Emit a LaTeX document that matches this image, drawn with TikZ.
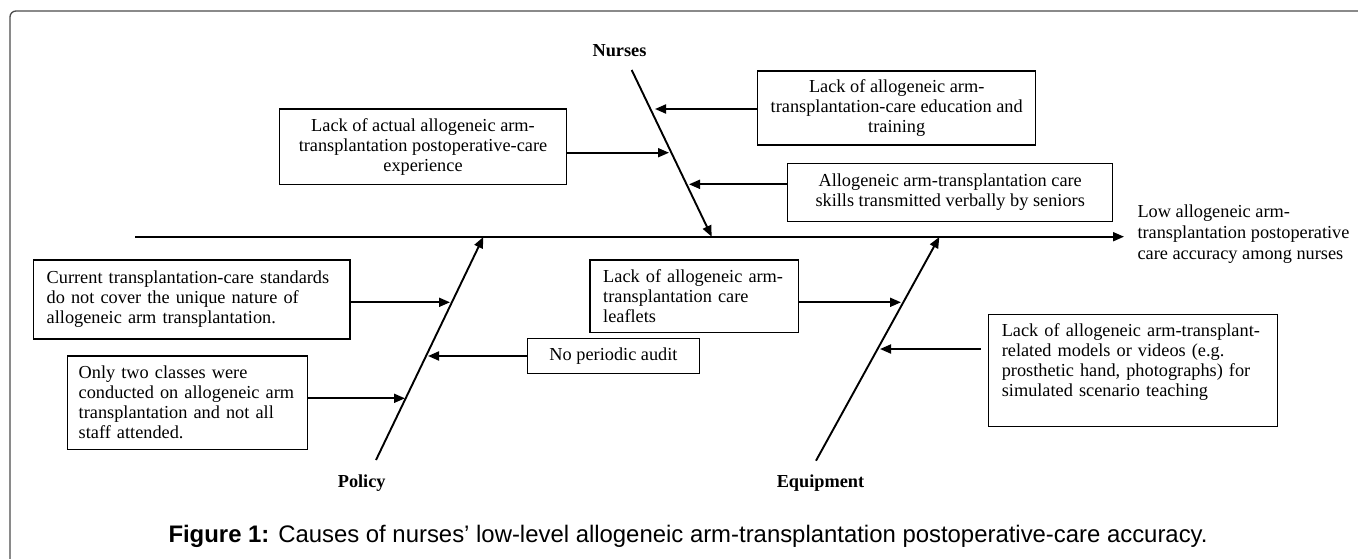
\documentclass[tikz,border=0pt]{standalone}
\usepackage{fontspec}
\setmainfont{Liberation Serif}
\newfontfamily\capfont{Liberation Sans}
\usetikzlibrary{arrows.meta}
\begin{document}
\begin{tikzpicture}[x=1pt,y=-1pt,
  tx/.style={font=\fontsize{18.3}{20}\selectfont},
  box/.style={tx,draw,line width=1.5pt,inner sep=0pt},
  lbl/.style={font=\fontsize{18.3}{20}\selectfont\bfseries},
  arr/.style={line width=1.9pt,-{Triangle[length=11pt,width=9pt]}}]
\useasboundingbox (0,0) rectangle (1358,558);
\fill[white] (0,0) rectangle (1358,558);
\draw[black!70,line width=1.3pt,rounded corners=6pt] (10,562) -- (10,11) -- (1362,11);

% cause boxes
\node[box,minimum width=287.4pt,minimum height=75.3pt,align=center] (A) at (423,146.7)
  {Lack of actual allogeneic arm-\\transplantation postoperative-care\\experience};
\node[box,minimum width=278pt,minimum height=74.3pt,align=center] (B) at (896.7,107.9)
  {Lack of allogeneic arm-\\transplantation-care education and\\training};
\node[box,minimum width=325pt,minimum height=58.4pt,align=center] (C) at (950.2,192.5)
  {Allogeneic arm-transplantation care\\skills transmitted verbally by seniors};
\node[box,minimum width=316.7pt,minimum height=79pt,text width=290pt,align=left] (D) at (191.7,299.5)
  {Current transplantation-care standards\\do not cover the unique nature of\\allogeneic arm transplantation.};
\node[box,minimum width=240pt,minimum height=93.3pt,text width=218pt,align=left] (E) at (187.7,402.7)
  {Only two classes were\\conducted on allogeneic arm\\transplantation and not all\\staff attended.};
\node[box,minimum width=208.3pt,minimum height=72.7pt,text width=182pt,align=left] (F) at (694.2,296.3)
  {Lack of allogeneic arm-\\transplantation care\\leaflets};
\node[box,minimum width=171.6pt,minimum height=34.6pt,align=center] (G) at (613.5,356)
  {No periodic audit};
\node[box,minimum width=289pt,minimum height=112.4pt,text width=262pt,align=left] (H) at (1132.8,370.5)
  {Lack of allogeneic arm-transplant-\\related models or videos (e.g.\\prosthetic hand, photographs) for\\simulated scenario teaching\\\mbox{}};

% category labels and effect
\node[lbl] (nurses) at (619.5,50.7) {Nurses};
\node[lbl] (policy) at (361.7,483.3) {Policy};
\node[lbl] (equip) at (820.5,483.3) {Equipment};
\node[font=\fontsize{18.3}{20.8}\selectfont,anchor=west,align=left,inner sep=0pt] (effect) at (1137.3,234)
  {Low allogeneic arm-\\transplantation postoperative\\care accuracy among nurses};

% spine and bones
\coordinate (sL) at (135,236.7);
\coordinate (sR) at (1124,236.7);
\coordinate (nT) at (631.7,70);
\coordinate (nH) at (711.7,236.7);
\coordinate (pB) at (376,460);
\coordinate (pH) at (483.3,237);
\coordinate (eB) at (816,460.7);
\coordinate (eH) at (939.3,237);
\draw[arr] (sL) -- (sR);
\draw[arr] (nT) -- (nH);
\draw[arr] (pB) -- (pH);
\draw[arr] (eB) -- (eH);

% ribs
\coordinate (tA) at (669,152.7);
\coordinate (tB) at (655,109);
\coordinate (tC) at (689,184.3);
\coordinate (tD) at (450,302.3);
\coordinate (tE) at (405,398.3);
\coordinate (tG) at (428,356);
\coordinate (tF) at (901,302.3);
\coordinate (tH) at (880,349);
\coordinate (hs) at (980.7,349);
\draw[arr] (A.east |- tA) -- (tA);
\draw[arr] (B.west |- tB) -- (tB);
\draw[arr] (C.west |- tC) -- (tC);
\draw[arr] (D.east |- tD) -- (tD);
\draw[arr] (E.east |- tE) -- (tE);
\draw[arr] (G.west |- tG) -- (tG);
\draw[arr] (F.east |- tF) -- (tF);
\draw[arr] (hs) -- (tH);

% caption
\node[font=\capfont\fontsize{23.9}{28}\selectfont,anchor=base west,inner sep=0pt] (cap) at (168.3,542.3)
  {\textbf{Figure 1:} Causes of nurses’ low-level allogeneic arm-transplantation postoperative-care accuracy.};
\end{tikzpicture}
\end{document}
